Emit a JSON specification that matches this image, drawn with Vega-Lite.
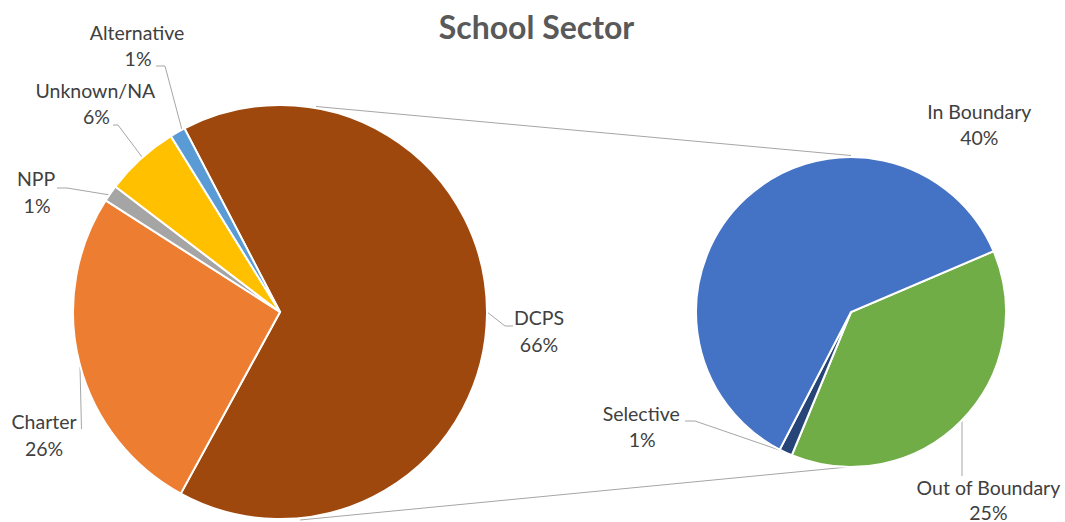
{
  "$schema": "https://vega.github.io/schema/vega-lite/v6.json",
  "width": 1065,
  "height": 522,
  "autosize": {"type": "none"},
  "padding": 0,
  "background": "white",
  "config": {"view": {"stroke": null}},
  "title": {"text": "School Sector", "font": "Lato", "fontSize": 32, "fontWeight": "bold", "color": "#595959", "offset": -71, "baseline": "alphabetic", "dx": 4},
  "datasets": {
    "main": [
      {"sector": "DCPS", "share": 0.656, "order": 1},
      {"sector": "Charter", "share": 0.261, "order": 2},
      {"sector": "NPP", "share": 0.013, "order": 3},
      {"sector": "Unknown/NA", "share": 0.058, "order": 4},
      {"sector": "Alternative", "share": 0.012, "order": 5}
    ],
    "sub": [
      {"sector": "Out of Boundary", "share": 0.247, "order": 1},
      {"sector": "Selective", "share": 0.009, "order": 2},
      {"sector": "In Boundary", "share": 0.400, "order": 3}
    ]
  },
  "resolve": {"scale": {"theta": "independent"}},
  "layer": [
    {"data": {"values": [{}]}, "mark": {"type": "rule", "color": "#a6a6a6", "strokeWidth": 1},
     "encoding": {"x": {"datum": 316, "type": "quantitative", "scale": {"domain": [0, 1065], "nice": false, "zero": false}, "axis": null},
                  "y": {"datum": 106.5, "type": "quantitative", "scale": {"domain": [0, 522], "reverse": true, "nice": false, "zero": false}, "axis": null},
                  "x2": {"datum": 851}, "y2": {"datum": 155.5}}},
    {"data": {"values": [{}]}, "mark": {"type": "rule", "color": "#a6a6a6", "strokeWidth": 1},
     "encoding": {"x": {"datum": 300, "type": "quantitative", "scale": {"domain": [0, 1065], "nice": false, "zero": false}, "axis": null},
                  "y": {"datum": 520, "type": "quantitative", "scale": {"domain": [0, 522], "reverse": true, "nice": false, "zero": false}, "axis": null},
                  "x2": {"datum": 853}, "y2": {"datum": 466.5}}},
    {"data": {"values": [{}]}, "mark": {"type": "rule", "color": "#a6a6a6", "strokeWidth": 1},
     "encoding": {"x": {"datum": 156, "type": "quantitative", "scale": {"domain": [0, 1065], "nice": false, "zero": false}, "axis": null},
                  "y": {"datum": 66, "type": "quantitative", "scale": {"domain": [0, 522], "reverse": true, "nice": false, "zero": false}, "axis": null},
                  "x2": {"datum": 165}, "y2": {"datum": 66}}},
    {"data": {"values": [{}]}, "mark": {"type": "rule", "color": "#a6a6a6", "strokeWidth": 1},
     "encoding": {"x": {"datum": 165, "type": "quantitative", "scale": {"domain": [0, 1065], "nice": false, "zero": false}, "axis": null},
                  "y": {"datum": 66, "type": "quantitative", "scale": {"domain": [0, 522], "reverse": true, "nice": false, "zero": false}, "axis": null},
                  "x2": {"datum": 182}, "y2": {"datum": 130}}},
    {"data": {"values": [{}]}, "mark": {"type": "rule", "color": "#a6a6a6", "strokeWidth": 1},
     "encoding": {"x": {"datum": 113, "type": "quantitative", "scale": {"domain": [0, 1065], "nice": false, "zero": false}, "axis": null},
                  "y": {"datum": 125, "type": "quantitative", "scale": {"domain": [0, 522], "reverse": true, "nice": false, "zero": false}, "axis": null},
                  "x2": {"datum": 118}, "y2": {"datum": 125}}},
    {"data": {"values": [{}]}, "mark": {"type": "rule", "color": "#a6a6a6", "strokeWidth": 1},
     "encoding": {"x": {"datum": 118, "type": "quantitative", "scale": {"domain": [0, 1065], "nice": false, "zero": false}, "axis": null},
                  "y": {"datum": 125, "type": "quantitative", "scale": {"domain": [0, 522], "reverse": true, "nice": false, "zero": false}, "axis": null},
                  "x2": {"datum": 142}, "y2": {"datum": 157}}},
    {"data": {"values": [{}]}, "mark": {"type": "rule", "color": "#a6a6a6", "strokeWidth": 1},
     "encoding": {"x": {"datum": 57, "type": "quantitative", "scale": {"domain": [0, 1065], "nice": false, "zero": false}, "axis": null},
                  "y": {"datum": 188, "type": "quantitative", "scale": {"domain": [0, 522], "reverse": true, "nice": false, "zero": false}, "axis": null},
                  "x2": {"datum": 67}, "y2": {"datum": 188}}},
    {"data": {"values": [{}]}, "mark": {"type": "rule", "color": "#a6a6a6", "strokeWidth": 1},
     "encoding": {"x": {"datum": 67, "type": "quantitative", "scale": {"domain": [0, 1065], "nice": false, "zero": false}, "axis": null},
                  "y": {"datum": 188, "type": "quantitative", "scale": {"domain": [0, 522], "reverse": true, "nice": false, "zero": false}, "axis": null},
                  "x2": {"datum": 110}, "y2": {"datum": 195}}},
    {"data": {"values": [{}]}, "mark": {"type": "rule", "color": "#a6a6a6", "strokeWidth": 1},
     "encoding": {"x": {"datum": 80, "type": "quantitative", "scale": {"domain": [0, 1065], "nice": false, "zero": false}, "axis": null},
                  "y": {"datum": 367, "type": "quantitative", "scale": {"domain": [0, 522], "reverse": true, "nice": false, "zero": false}, "axis": null},
                  "x2": {"datum": 81.5}, "y2": {"datum": 429}}},
    {"data": {"values": [{}]}, "mark": {"type": "rule", "color": "#a6a6a6", "strokeWidth": 1},
     "encoding": {"x": {"datum": 487, "type": "quantitative", "scale": {"domain": [0, 1065], "nice": false, "zero": false}, "axis": null},
                  "y": {"datum": 312, "type": "quantitative", "scale": {"domain": [0, 522], "reverse": true, "nice": false, "zero": false}, "axis": null},
                  "x2": {"datum": 505}, "y2": {"datum": 326}}},
    {"data": {"values": [{}]}, "mark": {"type": "rule", "color": "#a6a6a6", "strokeWidth": 1},
     "encoding": {"x": {"datum": 505, "type": "quantitative", "scale": {"domain": [0, 1065], "nice": false, "zero": false}, "axis": null},
                  "y": {"datum": 326, "type": "quantitative", "scale": {"domain": [0, 522], "reverse": true, "nice": false, "zero": false}, "axis": null},
                  "x2": {"datum": 513}, "y2": {"datum": 326}}},
    {"data": {"values": [{}]}, "mark": {"type": "rule", "color": "#a6a6a6", "strokeWidth": 1},
     "encoding": {"x": {"datum": 685, "type": "quantitative", "scale": {"domain": [0, 1065], "nice": false, "zero": false}, "axis": null},
                  "y": {"datum": 421, "type": "quantitative", "scale": {"domain": [0, 522], "reverse": true, "nice": false, "zero": false}, "axis": null},
                  "x2": {"datum": 695}, "y2": {"datum": 421}}},
    {"data": {"values": [{}]}, "mark": {"type": "rule", "color": "#a6a6a6", "strokeWidth": 1},
     "encoding": {"x": {"datum": 695, "type": "quantitative", "scale": {"domain": [0, 1065], "nice": false, "zero": false}, "axis": null},
                  "y": {"datum": 421, "type": "quantitative", "scale": {"domain": [0, 522], "reverse": true, "nice": false, "zero": false}, "axis": null},
                  "x2": {"datum": 788}, "y2": {"datum": 453}}},
    {"data": {"values": [{}]}, "mark": {"type": "rule", "color": "#a6a6a6", "strokeWidth": 1},
     "encoding": {"x": {"datum": 962, "type": "quantitative", "scale": {"domain": [0, 1065], "nice": false, "zero": false}, "axis": null},
                  "y": {"datum": 421, "type": "quantitative", "scale": {"domain": [0, 522], "reverse": true, "nice": false, "zero": false}, "axis": null},
                  "x2": {"datum": 962}, "y2": {"datum": 476}}},
    {"data": {"name": "main"}, "mark": {"type": "arc", "outerRadius": 207, "stroke": "white", "strokeWidth": 2},
     "encoding": {
       "x": {"datum": 280, "type": "quantitative", "scale": {"domain": [0, 1065], "nice": false, "zero": false}, "axis": null},
       "y": {"datum": 312, "type": "quantitative", "scale": {"domain": [0, 522], "reverse": true, "nice": false, "zero": false}, "axis": null},
       "theta": {"field": "share", "type": "quantitative", "stack": true, "scale": {"range": [-0.48, 5.80319]}},
       "order": {"field": "order", "type": "quantitative"},
       "color": {"field": "sector", "type": "nominal", "legend": null, "scale": {"domain": ["DCPS", "Charter", "NPP", "Unknown/NA", "Alternative", "In Boundary", "Out of Boundary", "Selective"], "range": ["#9E480E", "#ED7D31", "#A5A5A5", "#FFC000", "#5B9BD5", "#4472C4", "#70AD47", "#264478"]}}
     }},
    {"data": {"name": "sub"}, "mark": {"type": "arc", "outerRadius": 155, "stroke": "white", "strokeWidth": 2},
     "encoding": {
       "x": {"datum": 851, "type": "quantitative", "scale": {"domain": [0, 1065], "nice": false, "zero": false}, "axis": null},
       "y": {"datum": 312, "type": "quantitative", "scale": {"domain": [0, 522], "reverse": true, "nice": false, "zero": false}, "axis": null},
       "theta": {"field": "share", "type": "quantitative", "stack": true, "scale": {"range": [1.16763, 7.45082]}},
       "order": {"field": "order", "type": "quantitative"},
       "color": {"field": "sector", "type": "nominal", "legend": null, "scale": {"domain": ["DCPS", "Charter", "NPP", "Unknown/NA", "Alternative", "In Boundary", "Out of Boundary", "Selective"], "range": ["#9E480E", "#ED7D31", "#A5A5A5", "#FFC000", "#5B9BD5", "#4472C4", "#70AD47", "#264478"]}}
     }},
    {"data": {"name": "main"}, "mark": {"type": "text", "radius": 259, "dx": 0, "dy": 10, "align": "center", "baseline": "alphabetic", "font": "Lato", "fontSize": 19.5, "color": "#404040"},
     "encoding": {"x": {"datum": 280, "type": "quantitative", "scale": {"domain": [0, 1065], "nice": false, "zero": false}, "axis": null},
       "y": {"datum": 312, "type": "quantitative", "scale": {"domain": [0, 522], "reverse": true, "nice": false, "zero": false}, "axis": null},
       "theta": {"field": "share", "type": "quantitative", "stack": true, "scale": {"range": [-0.48, 5.80319]}},
       "order": {"field": "order", "type": "quantitative"}, "detail": {"field": "sector", "type": "nominal"},
       "text": {"condition": {"test": "datum.sector === 'DCPS'", "field": "sector", "type": "nominal"}, "value": ""}}},
    {"data": {"name": "main"}, "mark": {"type": "text", "radius": 259, "dx": 0, "dy": 37, "align": "center", "baseline": "alphabetic", "font": "Lato", "fontSize": 19.5, "color": "#404040"},
     "encoding": {"x": {"datum": 280, "type": "quantitative", "scale": {"domain": [0, 1065], "nice": false, "zero": false}, "axis": null},
       "y": {"datum": 312, "type": "quantitative", "scale": {"domain": [0, 522], "reverse": true, "nice": false, "zero": false}, "axis": null},
       "theta": {"field": "share", "type": "quantitative", "stack": true, "scale": {"range": [-0.48, 5.80319]}},
       "order": {"field": "order", "type": "quantitative"}, "detail": {"field": "sector", "type": "nominal"},
       "text": {"condition": {"test": "datum.sector === 'DCPS'", "field": "share", "type": "quantitative", "format": ".0%"}, "value": ""}}},
    {"data": {"name": "main"}, "mark": {"type": "text", "radius": 258, "dx": 14, "dy": 53, "align": "center", "baseline": "alphabetic", "font": "Lato", "fontSize": 19.5, "color": "#404040"},
     "encoding": {"x": {"datum": 280, "type": "quantitative", "scale": {"domain": [0, 1065], "nice": false, "zero": false}, "axis": null},
       "y": {"datum": 312, "type": "quantitative", "scale": {"domain": [0, 522], "reverse": true, "nice": false, "zero": false}, "axis": null},
       "theta": {"field": "share", "type": "quantitative", "stack": true, "scale": {"range": [-0.48, 5.80319]}},
       "order": {"field": "order", "type": "quantitative"}, "detail": {"field": "sector", "type": "nominal"},
       "text": {"condition": {"test": "datum.sector === 'Charter'", "field": "sector", "type": "nominal"}, "value": ""}}},
    {"data": {"name": "main"}, "mark": {"type": "text", "radius": 258, "dx": 14, "dy": 80, "align": "center", "baseline": "alphabetic", "font": "Lato", "fontSize": 19.5, "color": "#404040"},
     "encoding": {"x": {"datum": 280, "type": "quantitative", "scale": {"domain": [0, 1065], "nice": false, "zero": false}, "axis": null},
       "y": {"datum": 312, "type": "quantitative", "scale": {"domain": [0, 522], "reverse": true, "nice": false, "zero": false}, "axis": null},
       "theta": {"field": "share", "type": "quantitative", "stack": true, "scale": {"range": [-0.48, 5.80319]}},
       "order": {"field": "order", "type": "quantitative"}, "detail": {"field": "sector", "type": "nominal"},
       "text": {"condition": {"test": "datum.sector === 'Charter'", "field": "share", "type": "quantitative", "format": ".0%"}, "value": ""}}},
    {"data": {"name": "main"}, "mark": {"type": "text", "radius": 272, "dx": -21, "dy": 30, "align": "center", "baseline": "alphabetic", "font": "Lato", "fontSize": 19.5, "color": "#404040"},
     "encoding": {"x": {"datum": 280, "type": "quantitative", "scale": {"domain": [0, 1065], "nice": false, "zero": false}, "axis": null},
       "y": {"datum": 312, "type": "quantitative", "scale": {"domain": [0, 522], "reverse": true, "nice": false, "zero": false}, "axis": null},
       "theta": {"field": "share", "type": "quantitative", "stack": true, "scale": {"range": [-0.48, 5.80319]}},
       "order": {"field": "order", "type": "quantitative"}, "detail": {"field": "sector", "type": "nominal"},
       "text": {"condition": {"test": "datum.sector === 'NPP'", "field": "sector", "type": "nominal"}, "value": ""}}},
    {"data": {"name": "main"}, "mark": {"type": "text", "radius": 272, "dx": -20, "dy": 57, "align": "center", "baseline": "alphabetic", "font": "Lato", "fontSize": 19.5, "color": "#404040"},
     "encoding": {"x": {"datum": 280, "type": "quantitative", "scale": {"domain": [0, 1065], "nice": false, "zero": false}, "axis": null},
       "y": {"datum": 312, "type": "quantitative", "scale": {"domain": [0, 522], "reverse": true, "nice": false, "zero": false}, "axis": null},
       "theta": {"field": "share", "type": "quantitative", "stack": true, "scale": {"range": [-0.48, 5.80319]}},
       "order": {"field": "order", "type": "quantitative"}, "detail": {"field": "sector", "type": "nominal"},
       "text": {"condition": {"test": "datum.sector === 'NPP'", "field": "share", "type": "quantitative", "format": ".0%"}, "value": ""}}},
    {"data": {"name": "main"}, "mark": {"type": "text", "radius": 282, "dx": 5, "dy": -5, "align": "center", "baseline": "alphabetic", "font": "Lato", "fontSize": 19.5, "color": "#404040"},
     "encoding": {"x": {"datum": 280, "type": "quantitative", "scale": {"domain": [0, 1065], "nice": false, "zero": false}, "axis": null},
       "y": {"datum": 312, "type": "quantitative", "scale": {"domain": [0, 522], "reverse": true, "nice": false, "zero": false}, "axis": null},
       "theta": {"field": "share", "type": "quantitative", "stack": true, "scale": {"range": [-0.48, 5.80319]}},
       "order": {"field": "order", "type": "quantitative"}, "detail": {"field": "sector", "type": "nominal"},
       "text": {"condition": {"test": "datum.sector === 'Unknown/NA'", "field": "sector", "type": "nominal"}, "value": ""}}},
    {"data": {"name": "main"}, "mark": {"type": "text", "radius": 282, "dx": 6, "dy": 21, "align": "center", "baseline": "alphabetic", "font": "Lato", "fontSize": 19.5, "color": "#404040"},
     "encoding": {"x": {"datum": 280, "type": "quantitative", "scale": {"domain": [0, 1065], "nice": false, "zero": false}, "axis": null},
       "y": {"datum": 312, "type": "quantitative", "scale": {"domain": [0, 522], "reverse": true, "nice": false, "zero": false}, "axis": null},
       "theta": {"field": "share", "type": "quantitative", "stack": true, "scale": {"range": [-0.48, 5.80319]}},
       "order": {"field": "order", "type": "quantitative"}, "detail": {"field": "sector", "type": "nominal"},
       "text": {"condition": {"test": "datum.sector === 'Unknown/NA'", "field": "share", "type": "quantitative", "format": ".0%"}, "value": ""}}},
    {"data": {"name": "main"}, "mark": {"type": "text", "radius": 307, "dx": 9, "dy": -5, "align": "center", "baseline": "alphabetic", "font": "Lato", "fontSize": 19.5, "color": "#404040"},
     "encoding": {"x": {"datum": 280, "type": "quantitative", "scale": {"domain": [0, 1065], "nice": false, "zero": false}, "axis": null},
       "y": {"datum": 312, "type": "quantitative", "scale": {"domain": [0, 522], "reverse": true, "nice": false, "zero": false}, "axis": null},
       "theta": {"field": "share", "type": "quantitative", "stack": true, "scale": {"range": [-0.48, 5.80319]}},
       "order": {"field": "order", "type": "quantitative"}, "detail": {"field": "sector", "type": "nominal"},
       "text": {"condition": {"test": "datum.sector === 'Alternative'", "field": "sector", "type": "nominal"}, "value": ""}}},
    {"data": {"name": "main"}, "mark": {"type": "text", "radius": 307, "dx": 10, "dy": 21, "align": "center", "baseline": "alphabetic", "font": "Lato", "fontSize": 19.5, "color": "#404040"},
     "encoding": {"x": {"datum": 280, "type": "quantitative", "scale": {"domain": [0, 1065], "nice": false, "zero": false}, "axis": null},
       "y": {"datum": 312, "type": "quantitative", "scale": {"domain": [0, 522], "reverse": true, "nice": false, "zero": false}, "axis": null},
       "theta": {"field": "share", "type": "quantitative", "stack": true, "scale": {"range": [-0.48, 5.80319]}},
       "order": {"field": "order", "type": "quantitative"}, "detail": {"field": "sector", "type": "nominal"},
       "text": {"condition": {"test": "datum.sector === 'Alternative'", "field": "share", "type": "quantitative", "format": ".0%"}, "value": ""}}},
    {"data": {"name": "sub"}, "mark": {"type": "text", "radius": 54, "dx": 165, "dy": -153, "align": "center", "baseline": "alphabetic", "font": "Lato", "fontSize": 19.5, "color": "#404040"},
     "encoding": {"x": {"datum": 851, "type": "quantitative", "scale": {"domain": [0, 1065], "nice": false, "zero": false}, "axis": null},
       "y": {"datum": 312, "type": "quantitative", "scale": {"domain": [0, 522], "reverse": true, "nice": false, "zero": false}, "axis": null},
       "theta": {"field": "share", "type": "quantitative", "stack": true, "scale": {"range": [1.16763, 7.45082]}},
       "order": {"field": "order", "type": "quantitative"}, "detail": {"field": "sector", "type": "nominal"},
       "text": {"condition": {"test": "datum.sector === 'In Boundary'", "field": "sector", "type": "nominal"}, "value": ""}}},
    {"data": {"name": "sub"}, "mark": {"type": "text", "radius": 54, "dx": 165, "dy": -127, "align": "center", "baseline": "alphabetic", "font": "Lato", "fontSize": 19.5, "color": "#404040"},
     "encoding": {"x": {"datum": 851, "type": "quantitative", "scale": {"domain": [0, 1065], "nice": false, "zero": false}, "axis": null},
       "y": {"datum": 312, "type": "quantitative", "scale": {"domain": [0, 522], "reverse": true, "nice": false, "zero": false}, "axis": null},
       "theta": {"field": "share", "type": "quantitative", "stack": true, "scale": {"range": [1.16763, 7.45082]}},
       "order": {"field": "order", "type": "quantitative"}, "detail": {"field": "sector", "type": "nominal"},
       "text": {"condition": {"test": "datum.sector === 'In Boundary'", "field": "share", "type": "quantitative", "format": ".0%"}, "value": ""}}},
    {"data": {"name": "sub"}, "mark": {"type": "text", "radius": 227, "dx": -24, "dy": 23, "align": "center", "baseline": "alphabetic", "font": "Lato", "fontSize": 19.5, "color": "#404040"},
     "encoding": {"x": {"datum": 851, "type": "quantitative", "scale": {"domain": [0, 1065], "nice": false, "zero": false}, "axis": null},
       "y": {"datum": 312, "type": "quantitative", "scale": {"domain": [0, 522], "reverse": true, "nice": false, "zero": false}, "axis": null},
       "theta": {"field": "share", "type": "quantitative", "stack": true, "scale": {"range": [1.16763, 7.45082]}},
       "order": {"field": "order", "type": "quantitative"}, "detail": {"field": "sector", "type": "nominal"},
       "text": {"condition": {"test": "datum.sector === 'Out of Boundary'", "field": "sector", "type": "nominal"}, "value": ""}}},
    {"data": {"name": "sub"}, "mark": {"type": "text", "radius": 227, "dx": -24, "dy": 48, "align": "center", "baseline": "alphabetic", "font": "Lato", "fontSize": 19.5, "color": "#404040"},
     "encoding": {"x": {"datum": 851, "type": "quantitative", "scale": {"domain": [0, 1065], "nice": false, "zero": false}, "axis": null},
       "y": {"datum": 312, "type": "quantitative", "scale": {"domain": [0, 522], "reverse": true, "nice": false, "zero": false}, "axis": null},
       "theta": {"field": "share", "type": "quantitative", "stack": true, "scale": {"range": [1.16763, 7.45082]}},
       "order": {"field": "order", "type": "quantitative"}, "detail": {"field": "sector", "type": "nominal"},
       "text": {"condition": {"test": "datum.sector === 'Out of Boundary'", "field": "share", "type": "quantitative", "format": ".0%"}, "value": ""}}},
    {"data": {"name": "sub"}, "mark": {"type": "text", "radius": 187, "dx": -131, "dy": -61, "align": "center", "baseline": "alphabetic", "font": "Lato", "fontSize": 19.5, "color": "#404040"},
     "encoding": {"x": {"datum": 851, "type": "quantitative", "scale": {"domain": [0, 1065], "nice": false, "zero": false}, "axis": null},
       "y": {"datum": 312, "type": "quantitative", "scale": {"domain": [0, 522], "reverse": true, "nice": false, "zero": false}, "axis": null},
       "theta": {"field": "share", "type": "quantitative", "stack": true, "scale": {"range": [1.16763, 7.45082]}},
       "order": {"field": "order", "type": "quantitative"}, "detail": {"field": "sector", "type": "nominal"},
       "text": {"condition": {"test": "datum.sector === 'Selective'", "field": "sector", "type": "nominal"}, "value": ""}}},
    {"data": {"name": "sub"}, "mark": {"type": "text", "radius": 187, "dx": -130, "dy": -35, "align": "center", "baseline": "alphabetic", "font": "Lato", "fontSize": 19.5, "color": "#404040"},
     "encoding": {"x": {"datum": 851, "type": "quantitative", "scale": {"domain": [0, 1065], "nice": false, "zero": false}, "axis": null},
       "y": {"datum": 312, "type": "quantitative", "scale": {"domain": [0, 522], "reverse": true, "nice": false, "zero": false}, "axis": null},
       "theta": {"field": "share", "type": "quantitative", "stack": true, "scale": {"range": [1.16763, 7.45082]}},
       "order": {"field": "order", "type": "quantitative"}, "detail": {"field": "sector", "type": "nominal"},
       "text": {"condition": {"test": "datum.sector === 'Selective'", "field": "share", "type": "quantitative", "format": ".0%"}, "value": ""}}}
  ]
}
